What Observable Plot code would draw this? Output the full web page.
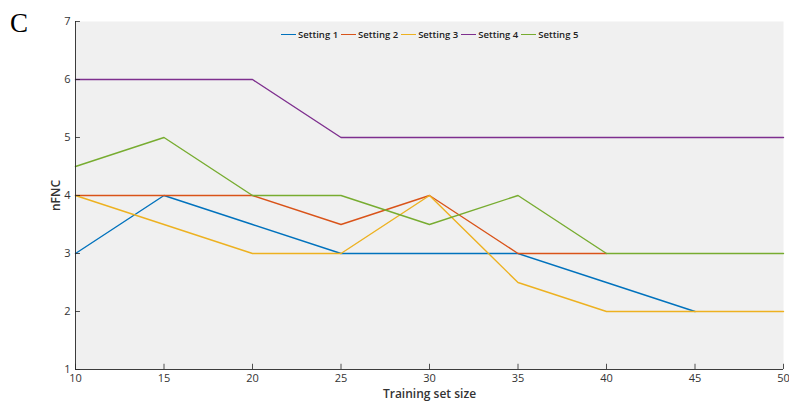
<!DOCTYPE html>
<html>
<head>
<meta charset="utf-8">
<script src="https://cdn.jsdelivr.net/npm/d3@7"></script>
<script src="https://cdn.jsdelivr.net/npm/@observablehq/plot@0.6"></script>
<style>
  body { margin: 0; background: #fff; }
  #wrap { position: relative; width: 789px; height: 402px; font-family: "Open Sans", "Liberation Sans", Arial, sans-serif; }
  #panel { position: absolute; left: 10px; top: 8px; font-family: "Liberation Serif", "Times New Roman", serif; font-size: 27px; color: #000; }
  #legend { position: absolute; left: 281px; top: 28px; display: flex; align-items: center; font-size: 9.5px; font-weight: 600; color: #222; }
  #legend .item { display: flex; align-items: center; margin-right: 3px; }
  #legend .sw { display: inline-block; width: 15px; height: 1.5px; margin-right: 2px; }
  #chart svg g[aria-label="x-axis label"] text, #chart svg g[aria-label="y-axis label"] text { font-weight: 600; }
</style>
</head>
<body>
<div id="wrap">
  <div id="chart"></div>
  <div id="panel">C</div>
  <div id="legend"></div>
</div>
<script>
const sizes = [10, 15, 20, 25, 30, 35, 40, 45, 50];
const seriesNames = ["Setting 1", "Setting 2", "Setting 3", "Setting 4", "Setting 5"];
// null = not visible in the reference (hidden under a later series)
const setting1 = [3, 4, 3.5, 3, 3, 3, 2.5, 2, null];
const setting2 = [4, 4, 4, 3.5, 4, 3, 3, null, null];
const setting3 = [4, 3.5, 3, 3, 4, 2.5, 2, 2, 2];
const setting4 = [6, 6, 6, 5, 5, 5, 5, 5, 5];
const setting5 = [4.5, 5, 4, 4, 3.5, 4, 3, 3, 3];
const colors = ["#0072BD", "#D95319", "#EDB120", "#7E2F8E", "#77AC30"];
const xTicks = [10, 15, 20, 25, 30, 35, 40, 45, 50];
const yTicks = [1, 2, 3, 4, 5, 6, 7];

const allSeries = [setting1, setting2, setting3, setting4, setting5];
const rows = [];
allSeries.forEach((vals, i) => vals.forEach((v, j) => { if (v != null) rows.push({series: seriesNames[i], x: sizes[j], y: v}); }));

const axisColor = "#262626";
const chart = Plot.plot({
  width: 789,
  height: 402,
  marginLeft: 75,
  marginRight: 6,
  marginTop: 21,
  marginBottom: 33,
  style: { fontFamily: "Open Sans, Liberation Sans, Arial, sans-serif", fontSize: "10px", color: "#333", background: "transparent" },
  x: { domain: [10, 50] },
  y: { domain: [1, 7] },
  color: { domain: seriesNames, range: colors },
  marks: [
    Plot.frame({ fill: "#f0f0f0", stroke: null }),
    Plot.line(rows, { x: "x", y: "y", z: "series", stroke: "series", strokeWidth: 1.4 }),
    Plot.ruleX(xTicks, { x: d => d, y1: 1, y2: 1.09, stroke: axisColor, strokeWidth: 0.8 }),
    Plot.ruleY(yTicks, { y: d => d, x1: 10, x2: 10.28, stroke: axisColor, strokeWidth: 0.8 }),
    Plot.ruleX([10], { stroke: axisColor, strokeWidth: 0.9 }),
    Plot.ruleY([1], { stroke: axisColor, strokeWidth: 0.9 }),
    Plot.axisX({ ticks: xTicks, tickFormat: d3.format("d"), tickSize: 0, tickPadding: 5, fontSize: 11, fontWeight: 500, label: "Training set size", labelAnchor: "center", labelOffset: 28, labelArrow: "none" }),
    Plot.axisY({ ticks: yTicks, tickFormat: d3.format("d"), tickSize: 0, tickPadding: 5, fontSize: 11, fontWeight: 500, label: "nFNC", labelAnchor: "center", labelOffset: 24, labelArrow: "none" })
  ]
});
document.getElementById("chart").appendChild(chart);
chart.querySelectorAll('g[aria-label="x-axis label"] text, g[aria-label="y-axis label"] text').forEach(t => t.setAttribute("font-size", "12"));

const legend = document.getElementById("legend");
seriesNames.forEach((name, i) => {
  const item = document.createElement("div");
  item.className = "item";
  const sw = document.createElement("span");
  sw.className = "sw";
  sw.style.background = colors[i];
  const t = document.createElement("span");
  t.textContent = name;
  item.appendChild(sw);
  item.appendChild(t);
  legend.appendChild(item);
});
</script>
</body>
</html>
